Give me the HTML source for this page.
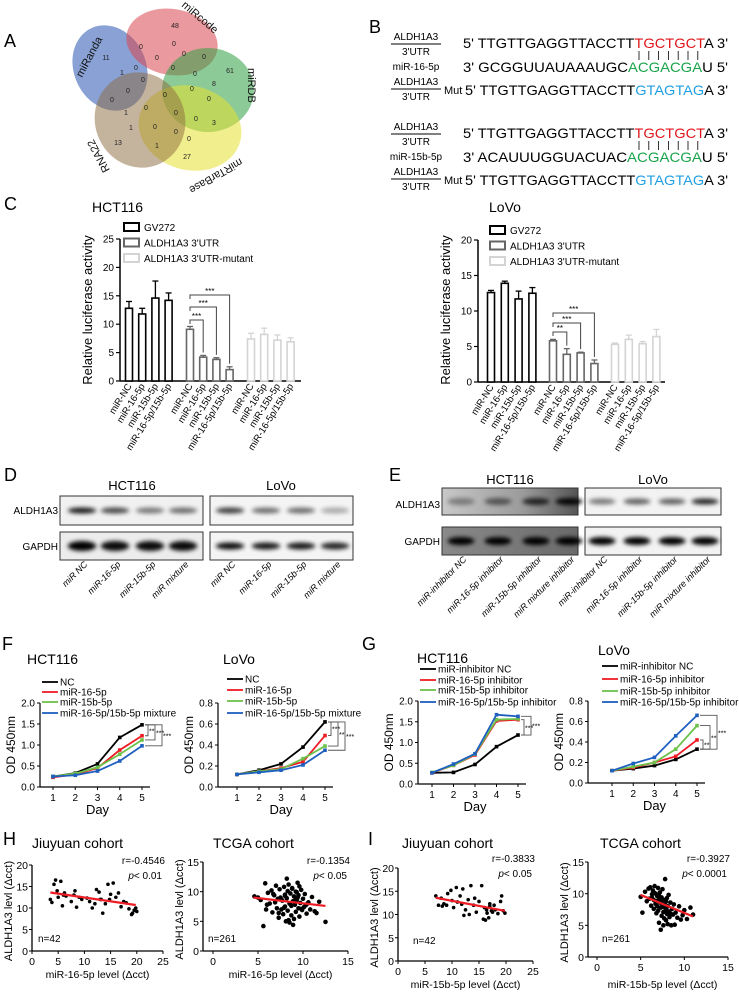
<!DOCTYPE html>
<html><head><meta charset="utf-8"><style>
html,body{margin:0;padding:0;background:#fff;}
svg{display:block;font-family:"Liberation Sans",Arial,sans-serif;}
</style></head><body>
<svg id="fig" width="739" height="995" viewBox="0 0 739 995" xmlns="http://www.w3.org/2000/svg">
<defs>
<filter id="blur1" x="-30%" y="-100%" width="160%" height="300%"><feGaussianBlur stdDeviation="2.2"/></filter>
<linearGradient id="eg1" x1="0" x2="1" y1="0" y2="0"><stop offset="0" stop-color="#c8c8c8"/><stop offset="0.6" stop-color="#9a9a9a"/><stop offset="1" stop-color="#555"/></linearGradient>
<linearGradient id="eg2" x1="0" x2="1" y1="0" y2="0"><stop offset="0" stop-color="#8a8a8a"/><stop offset="1" stop-color="#6a6a6a"/></linearGradient>
</defs>
<g font-size="18">
<text x="4" y="47">A</text>
<text x="369" y="33">B</text>
<text x="4" y="210">C</text>
<text x="4" y="481">D</text>
<text x="389" y="481">E</text>
<text x="2" y="650">F</text>
<text x="362" y="650">G</text>
<text x="3" y="845">H</text>
<text x="368" y="845">I</text>
</g>
<g stroke="none">
<ellipse cx="110" cy="68" rx="36" ry="44" transform="rotate(-25 110 68)" fill="#3a62b8" opacity="0.6"/>
<ellipse cx="172" cy="42" rx="46" ry="33" transform="rotate(10 172 42)" fill="#d9474f" opacity="0.55"/>
<ellipse cx="208" cy="90" rx="46" ry="42" fill="#2ea043" opacity="0.55"/>
<ellipse cx="190" cy="128" rx="52" ry="42" transform="rotate(15 190 128)" fill="#e6e030" opacity="0.55"/>
<ellipse cx="140" cy="120" rx="45" ry="48" transform="rotate(-20 140 120)" fill="#8b6a3c" opacity="0.5"/>
</g>
<g font-size="7" text-anchor="middle" fill="#222" id="vennNums"></g>
<g font-size="11" fill="#111">
<text transform="translate(82,78) rotate(-62)">miRanda</text>
<text transform="translate(181,6) rotate(40)">miRcode</text>
<text transform="translate(248,68) rotate(90)">miRDB</text>
<text transform="translate(240,158) rotate(150)">miRTarBase</text>
<text transform="translate(110,170) rotate(-118)">RNA22</text>
</g>
<g id="panelB" font-size="14"></g>
<g id="panelC"></g>
<g id="panelDE"></g>
<g id="panelFG"></g>
<g id="panelHI"></g>
</svg>
<script>
// ---------- DATA ----------
const barCategories = ["miR-NC","miR-16-5p","miR-15b-5p","miR-16-5p/15b-5p"];
const hctGV272 = [12.8, 11.8, 14.6, 14.2];
const hctGV272Err = [1.2, 1.0, 3.0, 1.3];
const hctUTR = [9.1, 4.2, 3.8, 2.0];
const hctUTRErr = [0.5, 0.3, 0.3, 0.5];
const hctMut = [7.4, 8.2, 7.2, 6.9];
const hctMutErr = [1.0, 1.1, 0.9, 0.7];
const lovoGV272 = [12.6, 13.9, 11.7, 12.5];
const lovoGV272Err = [0.3, 0.3, 1.1, 0.8];
const lovoUTR = [5.8, 3.9, 4.1, 2.6];
const lovoUTRErr = [0.2, 0.8, 0.1, 0.5];
const lovoMut = [5.3, 6.0, 5.4, 6.4];
const lovoMutErr = [0.2, 0.6, 0.3, 1.0];
const hctTicks = [0,5,10,15,20,25];
const lovoTicks = [0,5,10,15,20];

const days = [1,2,3,4,5];
const fHctNC = [0.25,0.33,0.55,1.18,1.48];
const fHct16 = [0.23,0.30,0.45,0.88,1.22];
const fHct15b = [0.25,0.32,0.47,0.78,1.12];
const fHctMix = [0.25,0.28,0.38,0.62,0.98];
const fLovoNC = [0.12,0.16,0.22,0.38,0.62];
const fLovo16 = [0.12,0.15,0.18,0.24,0.49];
const fLovo15b = [0.12,0.15,0.17,0.27,0.39];
const fLovoMix = [0.12,0.14,0.16,0.21,0.35];
const gHctNC = [0.27,0.28,0.47,0.90,1.18];
const gHct16 = [0.27,0.45,0.70,1.52,1.55];
const gHct15b = [0.28,0.45,0.72,1.55,1.57];
const gHctMix = [0.27,0.48,0.73,1.67,1.63];
const gLovoNC = [0.12,0.14,0.17,0.23,0.33];
const gLovo16 = [0.12,0.15,0.20,0.26,0.42];
const gLovo15b = [0.12,0.16,0.20,0.33,0.56];
const gLovoMix = [0.12,0.19,0.25,0.46,0.66];
const odTicksA = [0,0.5,1.0,1.5,2.0];
const odTicksB = [0,0.2,0.4,0.6,0.8];

const hJiuX = [3.5,3.8,4.2,4.5,4.8,5.0,5.5,5.8,6.2,6.5,7.5,8.0,8.2,8.5,9.0,9.5,10.5,11.0,11.5,12.0,12.3,12.8,13.0,13.5,14.0,14.5,14.8,15.0,15.5,16.0,16.5,17.0,17.5,18.0,18.5,19.0,19.2,19.5,19.8,20.0,13.2,6.0];
const hJiuY = [12,11.3,15.5,16.5,14,12.5,16.2,10.5,13.5,12.8,11.5,13,14,10.2,12.5,12,12.3,11.5,10,11,14.3,13.7,12,8.8,11,15.5,12,13.2,15.8,12.5,13.5,10.3,11.5,11.2,9.8,8.5,8.8,9.5,10,9.2,12,13];
const hJiuFitX = [3.5,19.8], hJiuFitY = [13.6,10.7];
const hTcgaX = [4.6,5.0,5.3,5.6,5.8,6.0,6.1,6.3,6.5,6.6,6.8,6.9,7.0,7.1,7.2,7.3,7.4,7.5,7.6,7.7,7.8,7.9,8.0,8.0,8.1,8.2,8.3,8.3,8.4,8.5,8.5,8.6,8.7,8.7,8.8,8.9,9.0,9.0,9.1,9.2,9.2,9.3,9.4,9.5,9.5,9.6,9.7,9.8,9.9,10.0,10.1,10.2,10.4,10.6,10.8,11.0,11.3,11.8,12.5,8.2,8.6,9.3,7.6,8.9,9.6,10.3,7.3,8.0,9.1,8.4,9.8,6.7,7.9,8.8,9.4,10.5,5.9,11.5];
const hTcgaY = [9.2,9.0,8.6,4.2,11.4,7.8,9.8,8.0,10.2,6.5,9.4,8.2,11.0,7.2,8.8,5.6,10.4,9.0,7.0,8.5,6.2,10.8,9.5,7.5,5.0,8.9,10.1,6.8,11.2,8.0,4.8,9.7,7.6,6.0,10.6,8.4,9.2,5.4,7.8,10.0,6.6,8.6,11.5,7.2,9.4,5.8,8.1,10.3,6.9,8.8,7.4,9.6,6.3,8.2,7.0,9.1,6.7,8.3,4.9,12.2,7.9,9.9,8.7,4.4,10.9,7.7,6.4,9.3,8.5,5.2,7.1,9.6,7.3,10.5,9.0,8.0,7.0,6.4];
const hTcgaFitX = [4.5,12.5], hTcgaFitY = [9.0,7.6];
const iJiuX = [7,7.5,8,8.2,8.5,9,9.2,9.8,10,10.3,10.8,11,11.5,12,12.2,12.5,13,13.2,13.5,14,14.5,15,15.5,15.8,16,16.2,16.5,16.8,17,17,17.3,17.5,17.8,18,18.5,19,19.2,19.5,19.8,14.2,11.8,16.4];
const iJiuY = [14,12,13.5,11.8,12.3,12,14.5,15.2,13,11.5,15.8,12.7,14,15.5,9.8,11,13.2,10,16.2,12,10.5,12.8,16.2,9,11.5,8.8,10.3,9.3,11.8,12.3,10.8,10.5,12,11,10.2,12.8,14,10.8,10.3,13.5,12.2,11];
const iJiuFitX = [7,19.8], iJiuFitY = [13.6,10.8];
const iTcgaX = [5.0,5.2,5.5,5.7,5.9,6.0,6.1,6.2,6.3,6.4,6.5,6.5,6.6,6.7,6.7,6.8,6.9,6.9,7.0,7.0,7.1,7.1,7.2,7.2,7.3,7.3,7.4,7.4,7.5,7.5,7.6,7.6,7.7,7.7,7.8,7.8,7.9,7.9,8.0,8.0,8.1,8.1,8.2,8.2,8.3,8.4,8.5,8.6,8.7,8.8,8.9,9.0,9.2,9.4,9.6,9.8,10.0,10.3,10.7,11.0,6.8,7.3,7.6,8.0,7.1,6.3,7.9,8.4,6.6,7.4];
const iTcgaY = [9.5,7.0,10.3,8.8,10.8,9.2,11.0,8.1,9.9,10.5,7.6,9.0,11.2,8.4,10.0,6.9,9.6,8.0,10.9,7.3,9.1,5.4,8.6,10.2,7.8,4.3,9.4,6.5,8.2,10.7,7.1,5.0,9.0,6.1,8.4,12.3,7.5,5.8,9.3,6.8,8.0,5.2,7.2,9.8,6.3,8.6,5.0,7.6,6.7,8.3,5.1,7.0,6.2,8.0,5.9,6.6,7.4,6.0,7.8,6.7,8.8,8.6,7.9,7.2,9.7,9.4,8.8,6.9,10.1,8.9];
const iTcgaFitX = [5,11], iTcgaFitY = [9.8,6.4];

const blotDAldhHct = [0.9,0.7,0.5,0.55];
const blotDAldhLovo = [0.75,0.55,0.55,0.3];
const blotEAldhHct = [0.35,0.5,0.75,0.95];
const blotEAldhLovo = [0.5,0.6,0.6,0.85];

// ---------- HELPERS ----------
const NS="http://www.w3.org/2000/svg";
function mk(tag, attrs, parent){const e=document.createElementNS(NS,tag);for(const k in attrs)e.setAttribute(k,attrs[k]);parent.appendChild(e);return e;}
function txt(s, attrs, parent){const e=mk('text',attrs,parent);e.textContent=s;return e;}

const vennNums=[["48",175,28],["11",106,60],["0",141,49],["0",174,46],["0",157,60],["0",184,56],["0",204,59],["1",122,75],["0",136,70],["0",173,70],["61",230,73],["0",143,82],["0",195,76],["8",214,86],["0",128,93],["0",165,97],["0",192,91],["0",112,102],["0",209,101],["0",146,110],["1",126,115],["0",176,115],["1",131,130],["0",155,129],["0",196,121],["3",214,125],["13",118,145],["0",176,134],["0",189,141],["1",157,148],["27",187,159]];
const vg=document.getElementById('vennNums');
vennNums.forEach(v=>{const t=txt(v[0],{x:v[1],y:v[2]},vg);

});

// ---------- PANEL B ----------
const pb=document.getElementById('panelB');
function labelFrac(x,y,parent){
  const t1=txt('ALDH1A3',{x:x,y:y,'font-size':10,'text-anchor':'middle'},parent);
  
  
  const l=mk('line',{x1:x-25,x2:x+25,y1:y+4,y2:y+4,stroke:'#000','stroke-width':1},parent);
  
  
  const t2=txt("3'UTR",{x:x,y:y+15,'font-size':10,'text-anchor':'middle'},parent);
  
  
}
function seqRow(y, x, parts, len, parent){
  const t=mk('text',{x:x,y:y,textLength:len,lengthAdjust:'spacingAndGlyphs'},parent);
  
  
  parts.forEach(p=>{const s=mk('tspan',{fill:p[1]},t);s.textContent=p[0];});
}
function block(y0, mir, mirSeq){
  labelFrac(416,y0-8,pb);
  seqRow(y0,463,[["5' TTGTTGAGGTTACCTT","#000"],["TGCTGCT","#e0161b"],["A 3'","#000"]],265,pb);
  for(let i=0;i<7;i++){const l=mk('line',{x1:639+i*9.8,x2:639+i*9.8,y1:y0+3,y2:y0+12,stroke:'#000','stroke-width':0.8},pb);
  
  }
  const m=txt(mir,{x:416,y:y0+22,'font-size':10,'text-anchor':'middle'},pb);
  
  
  seqRow(y0+24,463,[["3'  ","#000"],[mirSeq,"#000"],["ACGACGA","#1aa34a"],["U 5'","#000"]],265,pb);
  labelFrac(416,y0+37,pb);
  const mt=txt('Mut',{x:444,y:y0+46,'font-size':11},pb);
  
  
  seqRow(y0+47,465,[["5' TTGTTGAGGTTACCTT","#000"],["GTAGTAG","#1e9fe0"],["A 3'","#000"]],263,pb);
}
block(48,'miR-16-5p',' GCGGUUAUAAAUGC');
block(138,'miR-15b-5p','ACAUUUGGUACUAC');

// ---------- PANEL C ----------
const pc=document.getElementById('panelC');
function barChart(o){
  const g=mk('g',{},pc);
  
  
  const Y=v=>o.y0-v*o.ppu;
  const t=txt(o.title,{x:o.titleX,y:212,'font-size':14},g);
  
  
  const yl=txt('Relative luciferase activity',{transform:`translate(${o.axX-28},310) rotate(-90)`,'font-size':13,'text-anchor':'middle'},g);
  
  
  const ax=mk('line',{x1:o.axX,x2:o.axX,y1:Y(o.ticks[o.ticks.length-1]),y2:o.y0,stroke:'#000','stroke-width':1.5},g);
  
  
  const xa=mk('line',{x1:o.axX,x2:o.axEnd,y1:o.y0,y2:o.y0,stroke:'#000','stroke-width':1.5},g);
  
  
  o.ticks.forEach(tk=>{const l=mk('line',{x1:o.axX-4,x2:o.axX,y1:Y(tk),y2:Y(tk),stroke:'#000','stroke-width':1.2},g);
    
    
    const tl=txt(String(tk),{x:o.axX-6,y:Y(tk)+3.5,'font-size':10,'text-anchor':'end'},g);
    
    });
  const series=[[o.gv,o.gvE,'#000','GV272'],[o.utr,o.utrE,'#666',"ALDH1A3 3'UTR"],[o.mut,o.mutE,'#d4d4d4',"ALDH1A3 3'UTR-mutant"]];
  series.forEach((s,si)=>{
    const ly=o.legY+si*15.5;
    const lb=mk('rect',{x:o.legX,y:ly-5,width:15,height:8,fill:'#fff',stroke:s[2],'stroke-width':2},g);
    
    
    const lt=txt(s[3],{x:o.legX+20,y:ly+3,'font-size':10},g);
    
    
    s[0].forEach((v,i)=>{
      const x=o.start+si*o.gStep+i*o.bStep;
      const top=Y(v), et=Y(v+s[1][i]);
      const el=mk('line',{x1:x,x2:x,y1:top,y2:et,stroke:s[2],'stroke-width':1.3},g);
      
      
      const ec=mk('line',{x1:x-3,x2:x+3,y1:et,y2:et,stroke:s[2],'stroke-width':1.3},g);
      
      
      const r=mk('rect',{x:x-3.5,y:top,width:7,height:o.y0-top,fill:'#fff',stroke:s[2],'stroke-width':1.6},g);
      
      
      const lab=txt(barCategories[i],{transform:`translate(${x+3},${o.y0+5}) rotate(-58)`,'font-size':9.5,'text-anchor':'end',fill:'#000'},g);
      
      
    });
  });
  o.sig.forEach((b,bi)=>{
    const x1=o.start+o.gStep, x2=o.start+o.gStep+(bi+1)*o.bStep;
    const yb=b[0];
    const p=mk('path',{d:`M${x1},${yb+4} V${yb} H${x2} V${Y(o.utr[bi+1]+o.utrE[bi+1])-3}`,fill:'none',stroke:'#444','stroke-width':1},g);
    
    
    const st=txt(b[1],{x:(x1+x2)/2,y:yb-1,'font-size':8,'text-anchor':'middle'},g);
    
    
  });
}
barChart({name:'hct116-luciferase-chart',title:'HCT116',titleX:92,axX:120,axEnd:301,y0:381,ppu:5.68,ticks:hctTicks,start:129,bStep:13.2,gStep:61,
 gv:hctGV272,gvE:hctGV272Err,utr:hctUTR,utrE:hctUTRErr,mut:hctMut,mutE:hctMutErr,legX:124,legY:228,sig:[[320,'***'],[307,'***'],[295,'***']]});
barChart({name:'lovo-luciferase-chart',title:'LoVo',titleX:489,axX:478,axEnd:665,y0:382,ppu:7.1,ticks:lovoTicks,start:491,bStep:13.8,gStep:62,
 gv:lovoGV272,gvE:lovoGV272Err,utr:lovoUTR,utrE:lovoUTRErr,mut:lovoMut,mutE:lovoMutErr,legX:490,legY:231,sig:[[332,'**'],[323,'***'],[313,'***']]});

// ---------- PANEL D/E ----------
const pde=document.getElementById('panelDE');
function blot(x,y,w,h,lanes,intens,thick,bg,name){
  const g=mk('g',{},pde);
  
  
  const r=mk('rect',{x:x,y:y,width:w,height:h,fill:bg,stroke:'#333','stroke-width':1},g);
  
  
  lanes.forEach((lx,i)=>{const e=mk('ellipse',{cx:lx,cy:y+h/2,rx:w/10,ry:thick,fill:'#000',opacity:intens[i],filter:'url(#blur1)'},g);
    
    });
}
const dHctL=[82,115,150,183], dLovoL=[230,266,301,335];
blot(60,496,143,29,dHctL,blotDAldhHct,3,'#f1f1f1','blot-d-hct116-aldh1a3');
blot(60,532,143,28,dHctL,[1,0.95,0.95,0.95],5,'#ececec','blot-d-hct116-gapdh');
blot(210,496,143,29,dLovoL,blotDAldhLovo,3,'#f4f4f4','blot-d-lovo-aldh1a3');
blot(210,532,143,28,dLovoL,[0.95,0.9,0.9,0.85],3.5,'#f4f4f4','blot-d-lovo-gapdh');
const eHctL=[461,498,536,569], eLovoL=[602,637,672,705];
blot(442,488,136,27,eHctL,blotEAldhHct,3.5,'url(#eg1)','blot-e-hct116-aldh1a3');
blot(442,527,136,28,eHctL,[1,1,1,1],4,'url(#eg2)','blot-e-hct116-gapdh');
blot(585,488,136,27,eLovoL,blotEAldhLovo,3,'#f2f2f2','blot-e-lovo-aldh1a3');
blot(585,527,136,28,eLovoL,[1,1,1,1],4,'#f2f2f2','blot-e-lovo-gapdh');
[['HCT116',132,490],['LoVo',281,490],['HCT116',510,484],['LoVo',653,484]].forEach(t=>{
  const e=txt(t[0],{x:t[1],y:t[2],'font-size':13,'text-anchor':'middle'},pde);
  
  });
[['ALDH1A3',58,514],['GAPDH',58,550],['ALDH1A3',440,508],['GAPDH',440,545]].forEach(t=>{
  const e=txt(t[0],{x:t[1],y:t[2],'font-size':10,'text-anchor':'end'},pde);
  
  });
const dLab=['miR NC','miR-16-5p','miR-15b-5p','miR mixture'];
const eLab=['miR-inhibitor NC','miR-16-5p inhibitor','miR-15b-5p inhibitor','miR mixture inhibitor'];
dHctL.concat(dLovoL).forEach((x,i)=>{const e=txt(dLab[i%4],{transform:`translate(${x+6},${565}) rotate(-45)`,'font-size':9,'text-anchor':'end','font-style':'italic'},pde);
  
  });
eHctL.concat(eLovoL).forEach((x,i)=>{const e=txt(eLab[i%4],{transform:`translate(${x+6},${560}) rotate(-45)`,'font-size':9,'text-anchor':'end','font-style':'italic'},pde);
  
  });

// ---------- PANEL F/G ----------
const pfg=document.getElementById('panelFG');
const lineColors=['#000','#ee1c25','#6cc24a','#1f5fbf'];
function lineChart(o){
  const g=mk('g',{},pfg);
  
  
  const X=d=>o.d1+(d-1)*(o.d5-o.d1)/4;
  const yMax=o.ticks[o.ticks.length-1];
  const Y=v=>o.y0-(v/yMax)*(o.y0-o.yTop);
  const t=txt(o.title,{x:o.titleX,y:o.titleY,'font-size':14},g);
  
  
  const ay=mk('line',{x1:o.axX,x2:o.axX,y1:o.yTop,y2:o.y0,stroke:'#000','stroke-width':1.2},g);
  
  
  const axx=mk('line',{x1:o.axX,x2:o.d5+8,y1:o.y0,y2:o.y0,stroke:'#000','stroke-width':1.2},g);
  
  
  o.ticks.forEach(tk=>{const l=mk('line',{x1:o.axX-3,x2:o.axX,y1:Y(tk),y2:Y(tk),stroke:'#000'},g);
    
    
    const tl=txt(tk.toFixed(1),{x:o.axX-5,y:Y(tk)+3.5,'font-size':10,'text-anchor':'end'},g);
    
    });
  days.forEach(d=>{const l=mk('line',{x1:X(d),x2:X(d),y1:o.y0,y2:o.y0+3,stroke:'#000'},g);
    
    
    const tl=txt(String(d),{x:X(d),y:o.y0+14,'font-size':10,'text-anchor':'middle'},g);
    
    });
  const xt=txt('Day',{x:(o.d1+o.d5)/2,y:o.y0+27,'font-size':13,'text-anchor':'middle'},g);
  
  
  const yt=txt('OD 450nm',{transform:`translate(${o.axX-25},${(o.y0+o.yTop)/2}) rotate(-90)`,'font-size':12,'text-anchor':'middle'},g);
  
  
  o.series.forEach((s,si)=>{
    const c=lineColors[si];
    const pts=s.map((v,i)=>X(days[i])+','+Y(v)).join(' ');
    const pl=mk('polyline',{points:pts,fill:'none',stroke:c,'stroke-width':1.8},g);
    
    
    s.forEach((v,i)=>{const m=mk('rect',{x:X(days[i])-1.8,y:Y(v)-1.8,width:3.6,height:3.6,fill:c},g);
      
      });
    const ly=o.legY[si];
    const ll=mk('line',{x1:o.legX,x2:o.legX+16,y1:ly,y2:ly,stroke:c,'stroke-width':1.8},g);
    
    
    const lt=txt(o.labels[si],{x:o.legX+18,y:ly+3.5,'font-size':10},g);
    
    
  });
  const ref=o.series[o.refIdx][4];
  o.sigTargets.forEach((ti,k)=>{
    const xr=o.d5+6+k*7;
    const y1=Y(ref), y2=Y(o.series[ti][4]);
    const p=mk('path',{d:`M${o.d5+3},${y1} H${xr} V${y2} H${o.d5+3}`,fill:'none',stroke:'#555','stroke-width':0.9},g);
    
    
    const st=txt(o.sigText[k],{x:xr+1,y:(y1+y2)/2+3,'font-size':7},g);
    
    
  });
}
const labF=['NC','miR-16-5p','miR-15b-5p','miR-16-5p/15b-5p mixture'];
const labG=['miR-inhibitor NC','miR-16-5p inhibitor','miR-15b-5p inhibitor','miR-16-5p/15b-5p inhibitor'];
lineChart({name:'f-hct116-growth',title:'HCT116',titleX:27,titleY:664,axX:40,d1:53,d5:142,y0:787,yTop:703,ticks:odTicksA,series:[fHctNC,fHct16,fHct15b,fHctMix],labels:labF,legX:42,legY:[682,692,702,713],refIdx:0,sigTargets:[1,2,3],sigText:['**','***','***']});
lineChart({name:'f-lovo-growth',title:'LoVo',titleX:223,titleY:664,axX:218,d1:237,d5:325,y0:787,yTop:703,ticks:odTicksB,series:[fLovoNC,fLovo16,fLovo15b,fLovoMix],labels:labF,legX:227,legY:[679,690,701,713],refIdx:0,sigTargets:[1,2,3],sigText:['***','**','***']});
lineChart({name:'g-hct116-growth',title:'HCT116',titleX:417,titleY:663,axX:418,d1:432,d5:518,y0:784,yTop:701,ticks:odTicksA,series:[gHctNC,gHct16,gHct15b,gHctMix],labels:labG,legX:420,legY:[669,680,690,702],refIdx:0,sigTargets:[1,3],sigText:['***','***']});
lineChart({name:'g-lovo-growth',title:'LoVo',titleX:598,titleY:655,axX:588,d1:612,d5:697,y0:783,yTop:701,ticks:odTicksB,series:[gLovoNC,gLovo16,gLovo15b,gLovoMix],labels:labG,legX:602,legY:[666,679,691,702],refIdx:0,sigTargets:[1,2,3],sigText:['**','**','***']});

// ---------- PANEL H/I ----------
const phi=document.getElementById('panelHI');
function scatter(o){
  const g=mk('g',{},phi);
  
  
  const X=v=>o.x0+v/o.xMax*(o.x1-o.x0);
  const Y=v=>o.y0-v/o.yMax*(o.y0-o.yTop);
  const t=txt(o.title,{x:o.titleX,y:848,'font-size':14},g);
  
  
  const ay=mk('line',{x1:o.axX,x2:o.axX,y1:o.yTop,y2:o.y0,stroke:'#000','stroke-width':1.3},g);
  
  
  const axx=mk('line',{x1:o.axX,x2:o.x1,y1:o.y0,y2:o.y0,stroke:'#000','stroke-width':1.3},g);
  
  
  o.yTicks.forEach(tk=>{const l=mk('line',{x1:o.axX-3,x2:o.axX,y1:Y(tk),y2:Y(tk),stroke:'#000'},g);
    
    
    const tl=txt(String(tk),{x:o.axX-4,y:Y(tk)+4,'font-size':10.5,'text-anchor':'end'},g);
    
    });
  o.xTicks.forEach(tk=>{const l=mk('line',{x1:X(tk),x2:X(tk),y1:o.y0,y2:o.y0+3,stroke:'#000'},g);
    
    
    const tl=txt(String(tk),{x:X(tk),y:o.y0+14,'font-size':10.5,'text-anchor':'middle'},g);
    
    });
  const xt=txt(o.xLabel,{x:(o.x0+o.x1)/2,y:o.xLabelY,'font-size':10.5,'text-anchor':'middle'},g);
  
  
  const yt=txt('ALDH1A3 levl (\u0394cct)',{transform:`translate(${o.axX-20},${(o.y0+o.yTop)/2+3}) rotate(-90)`,'font-size':11,'text-anchor':'middle'},g);
  
  
  const n=Math.min(o.xs.length,o.ys.length);
  for(let i=0;i<n;i++){const c=mk('circle',{cx:X(o.xs[i]),cy:Y(o.ys[i]),r:o.r,fill:'#000'},g);
    
    }
  const fl=mk('line',{x1:X(o.fx[0]),y1:Y(o.fy[0]),x2:X(o.fx[1]),y2:Y(o.fy[1]),stroke:'#ee1c25','stroke-width':2.2},g);
  
  
  const rt=txt(o.rText,{x:o.rX,y:o.rY,'font-size':10,'text-anchor':'end'},g);
  
  
  const pt=mk('text',{x:o.rX-3,y:o.rY+15,'font-size':10,'text-anchor':'end'},g);
  
  
  const pi=mk('tspan',{'font-style':'italic'},pt); pi.textContent='p';
  const pr=mk('tspan',{},pt); pr.textContent=o.pText;
  const nt=txt(o.nText,{x:o.nX,y:o.nY,'font-size':10},g);
  
  
}
scatter({name:'h-jiuyuan-scatter',title:'Jiuyuan cohort',titleX:32,axX:32,x0:32,x1:163,xMax:25,y0:951,yTop:865,yMax:20,xTicks:[0,5,10,15,20,25],yTicks:[0,5,10,15,20],xs:hJiuX,ys:hJiuY,fx:hJiuFitX,fy:hJiuFitY,r:1.8,rText:'r=-0.4546',pText:'< 0.01',rX:165,rY:864,nText:'n=42',nX:38,nY:942,xLabelY:978,xLabel:'miR-16-5p level (\u0394cct)'});
scatter({name:'h-tcga-scatter',title:'TCGA cohort',titleX:213,axX:203,x0:213,x1:348,xMax:15,y0:951,yTop:862,yMax:15,xTicks:[0,5,10,15],yTicks:[0,5,10,15],xs:hTcgaX,ys:hTcgaY,fx:hTcgaFitX,fy:hTcgaFitY,r:2.3,rText:'r=-0.1354',pText:'< 0.05',rX:350,rY:864,nText:'n=261',nX:208,nY:942,xLabelY:978,xLabel:'miR-16-5p level (\u0394cct)'});
scatter({name:'i-jiuyuan-scatter',title:'Jiuyuan cohort',titleX:402,axX:398,x0:398,x1:533,xMax:25,y0:961,yTop:868,yMax:20,xTicks:[0,5,10,15,20,25],yTicks:[0,5,10,15,20],xs:iJiuX,ys:iJiuY,fx:iJiuFitX,fy:iJiuFitY,r:1.8,rText:'r=-0.3833',pText:'< 0.05',rX:535,rY:862,nText:'n=42',nX:413,nY:944,xLabelY:988,xLabel:'miR-15b-5p level (\u0394cct)'});
scatter({name:'i-tcga-scatter',title:'TCGA cohort',titleX:600,axX:588,x0:597,x1:728,xMax:15,y0:957,yTop:862,yMax:15,xTicks:[0,5,10,15],yTicks:[0,5,10,15],xs:iTcgaX,ys:iTcgaY,fx:iTcgaFitX,fy:iTcgaFitY,r:2.3,rText:'r=-0.3927',pText:'< 0.0001',rX:730,rY:862,nText:'n=261',nX:602,nY:942,xLabelY:988,xLabel:'miR-15b-5p level (\u0394cct)'});
</script>
</body></html>
